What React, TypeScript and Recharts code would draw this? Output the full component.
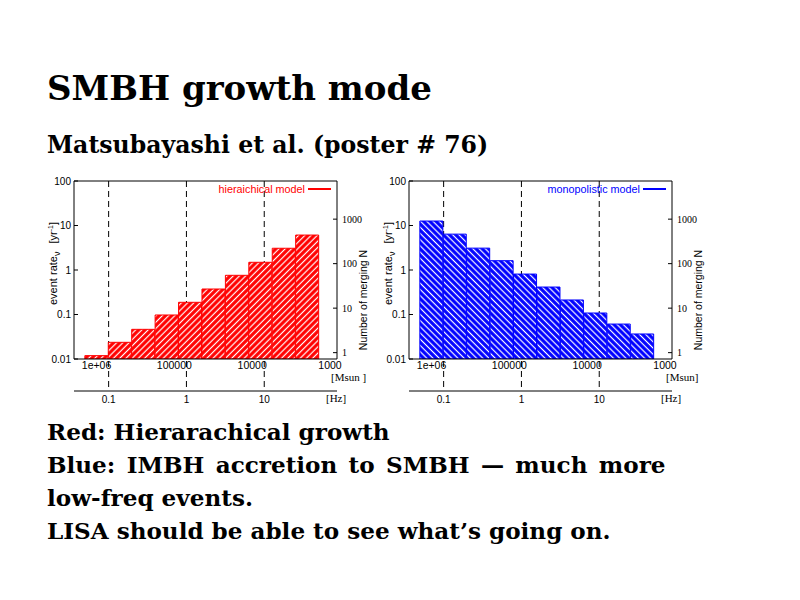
import React from "react";
import { BarChart, Bar, XAxis, YAxis, ReferenceLine } from "recharts";

// mass bins in Msun, one bar per factor of two, heaviest first
const massBins = [1000000, 500000, 250000, 125000, 62500, 31250, 15625, 7813, 3906, 1953];
const hierarchicalRate = [0.0119, 0.0237, 0.0464, 0.0975, 0.188, 0.374, 0.76, 1.49, 3.08, 6.1];
const monopolisticRate = [12.6, 6.4, 3.1, 1.62, 0.81, 0.414, 0.212, 0.108, 0.061, 0.0365];

const rateTicks = [0.01, 0.1, 1, 10, 100];
const mergerTicks = [1, 10, 100, 1000];
const massTicks = [6, 5, 4, 3]; // log10 Msun
const massTickLabels = ["1e+06", "100000", "10000", "1000"];
const freqTicks = [-1, 0, 1]; // log10 Hz
const freqTickLabels = ["0.1", "1", "10"];
const guideFreqs = [-1, 0, 1];

const bodyLines = [
  "Red: Hierarachical growth",
  "Blue: IMBH accretion to SMBH \u2014 much more",
  "low-freq events.",
  "LISA should be able to see what\u2019s going on.",
];
const bodyWordSpacing = [0, 3.3, 0, 0];

// layout (chart coordinates)
const W = 372;
const H = 240;
const MARGIN = { top: 10, right: 10, left: 34, bottom: 0 };
const LEFT_AXIS_W = 40;
const RIGHT_AXIS_W = 25;
const MASS_AXIS_H = 32;
const FREQ_AXIS_H = 19;
const PLOT_X0 = MARGIN.left + LEFT_AXIS_W;
const PLOT_X1 = W - MARGIN.right - RIGHT_AXIS_W;
const PLOT_Y0 = MARGIN.top + 1;
const PLOT_Y1 = H - MARGIN.bottom - MASS_AXIS_H - FREQ_AXIS_H;
const PLOT_W = PLOT_X1 - PLOT_X0;
const PLOT_MID = (PLOT_Y0 + PLOT_Y1) / 2;

const LOGM_LO = 2.91;
const LOGM_HI = 6.29;
const LOGF_AT_LOGM0 = 4.845; // log f = this - log M
const RATE_DOMAIN = [0.01, 100];
const COUNT_DOMAIN = [0.72, 7200];
const GUIDE_BOTTOM = 0.00223;

const HALF_BIN = Math.log10(2) / 2;
const firstEdge = Math.log10(massBins[0]) + HALF_BIN;
const lastEdge = Math.log10(massBins[massBins.length - 1]) - HALF_BIN;
const padLeft = ((LOGM_HI - firstEdge) / (LOGM_HI - LOGM_LO)) * PLOT_W;
const padRight = ((lastEdge - LOGM_LO) / (LOGM_HI - LOGM_LO)) * PLOT_W;

const SANS = "'Liberation Sans', Arial, sans-serif";
const SERIF = "'Liberation Serif', 'Times New Roman', serif";
const SLIDE = "'DejaVu Serif', serif";

function Panel({ rates, color, hatchAngle, id, name, massUnit }: any) {
  const data = massBins.map((mass, i) => {
    const logMass = Math.log10(mass);
    return { mass, logMass, logFreq: LOGF_AT_LOGM0 - logMass, rate: rates[i] };
  });
  const tickStyle = { fontSize: 10, fill: "#000", fontFamily: SANS };

  return (
    <BarChart width={W} height={H} data={data} margin={MARGIN} barCategoryGap={0} barGap={0}>
      <defs>
        <pattern id={id} width={4.4} height={4.4} patternUnits="userSpaceOnUse" patternTransform={`rotate(${hatchAngle})`}>
          <rect width={4.4} height={4.4} fill={color} />
          <line x1={2.2} y1={0} x2={2.2} y2={4.4} stroke="#fff" strokeWidth={1.2} />
        </pattern>
      </defs>

      {/* axes ids are ordered a..d so that the stacking below the plot is mass first, then frequency */}
      <XAxis xAxisId="a-bins" dataKey="mass" type="category" orientation="top" height={0} hide
        padding={{ left: padLeft, right: padRight }} />
      <XAxis xAxisId="b-mass" dataKey="logMass" type="number" domain={[LOGM_LO, LOGM_HI]} reversed allowDataOverflow
        ticks={massTicks} interval={0} tickFormatter={(v) => massTickLabels[massTicks.indexOf(v)]}
        height={MASS_AXIS_H} tickLine={false} tickSize={0} tickMargin={3}
        axisLine={{ stroke: "#000" }} tick={{ ...tickStyle, fontSize: 10.5 }}
        label={{
          content: () => (
            <text x={PLOT_X1 - 6} y={PLOT_Y1 + 22} fontSize={11} fontFamily={SERIF} fill="#000">{massUnit}</text>
          ),
        }} />
      <XAxis xAxisId="c-freq" dataKey="logFreq" type="number" domain={[LOGF_AT_LOGM0 - LOGM_HI, LOGF_AT_LOGM0 - LOGM_LO]}
        allowDataOverflow ticks={freqTicks} interval={0} tickFormatter={(v) => freqTickLabels[freqTicks.indexOf(v)]}
        height={FREQ_AXIS_H} tickLine={false} tickSize={0} tickMargin={5}
        axisLine={{ stroke: "#000" }} tick={tickStyle}
        label={{
          content: () => (
            <text x={PLOT_X1 - 11} y={PLOT_Y1 + MASS_AXIS_H + 11} fontSize={11} fontFamily={SERIF} fill="#000">[Hz]</text>
          ),
        }} />
      <XAxis xAxisId="d-frame" dataKey="logMass" orientation="top" type="number" domain={[LOGM_LO, LOGM_HI]}
        allowDataOverflow height={1} tick={false} tickLine={false} axisLine={{ stroke: "#000" }}
        label={{
          content: () => (
            <g>
              <text x={PLOT_X1 - 32} y={23} textAnchor="end" fontSize={10.8} fontFamily={SANS} fill={color}>{name}</text>
              <line x1={PLOT_X1 - 29} x2={PLOT_X1 - 6} y1={19} y2={19} stroke={color} strokeWidth={2} />
            </g>
          ),
        }} />

      <YAxis yAxisId="rate" type="number" scale="log" domain={RATE_DOMAIN} allowDataOverflow ticks={rateTicks}
        interval={0} width={LEFT_AXIS_W} tickSize={-4} tickMargin={7} axisLine={{ stroke: "#000" }}
        tickLine={{ stroke: "#000" }} tick={tickStyle} tickFormatter={(v) => String(v)}
        label={{
          content: () => (
            <text x={57} y={PLOT_MID + 35} transform={`rotate(-90 57 ${PLOT_MID + 35})`} fontSize={11}
              fontFamily={SANS} fill="#000">
              event rate<tspan dy={3} fontSize={9}>{"\u03bd"}</tspan>
              <tspan dx={8} dy={-3}>[yr</tspan>
              <tspan dy={-4} fontSize={7}>-1</tspan>
              <tspan dy={4}>]</tspan>
            </text>
          ),
        }} />
      <YAxis yAxisId="count" orientation="right" type="number" scale="log" domain={COUNT_DOMAIN} allowDataOverflow
        ticks={mergerTicks} interval={0} width={RIGHT_AXIS_W} tickSize={-4} tickMargin={9}
        axisLine={{ stroke: "#000" }} tickLine={{ stroke: "#000" }}
        tick={{ fontSize: 10, fill: "#000", fontFamily: SERIF }} tickFormatter={(v) => String(v)}
        label={{
          content: () => (
            <text x={367} y={PLOT_MID + 30} transform={`rotate(-90 367 ${PLOT_MID + 30})`} textAnchor="middle"
              fontSize={10.5} fontFamily={SANS} fill="#000">Number of merging N</text>
          ),
        }} />

      {guideFreqs.map((f) => (
        <ReferenceLine key={f} xAxisId="c-freq" yAxisId="rate" ifOverflow="visible" zIndex={0}
          segment={[{ x: f, y: RATE_DOMAIN[1] }, { x: f, y: GUIDE_BOTTOM }]}
          stroke="#000" strokeWidth={1} strokeDasharray="6 4" />
      ))}

      <Bar xAxisId="a-bins" yAxisId="rate" dataKey="rate" fill={`url(#${id})`} stroke={color} strokeWidth={1}
        isAnimationActive={false} />
    </BarChart>
  );
}

export default function App() {
  return (
    <div style={{ position: "fixed", left: 0, top: 0, width: 800, height: 600, background: "#fff", overflow: "hidden" }}>
      <div style={{ position: "absolute", left: 47, top: 70.5, fontFamily: SLIDE, fontWeight: "bold",
        fontSize: 34, lineHeight: "34px", whiteSpace: "nowrap", color: "#000" }}>
        SMBH growth mode
      </div>
      <div style={{ position: "absolute", left: 47, top: 134, fontFamily: SLIDE, fontWeight: "bold",
        fontSize: 23.6, lineHeight: "23.6px", whiteSpace: "nowrap", color: "#000" }}>
        Matsubayashi et al. (poster # 76)
      </div>

      <div style={{ position: "absolute", left: 0, top: 170 }}>
        <Panel rates={hierarchicalRate} color="#ff0000" hatchAngle={45} id="hatchRed" name="hieraichical model" massUnit="[Msun ]" />
      </div>
      <div style={{ position: "absolute", left: 335.3, top: 170 }}>
        <Panel rates={monopolisticRate} color="#0000ff" hatchAngle={-45} id="hatchBlue" name="monopolistic model" massUnit="[Msun]" />
      </div>

      <div style={{ position: "absolute", left: 47, top: 414.5, fontFamily: SLIDE, fontWeight: "bold", fontSize: 23.1,
        lineHeight: "33px", whiteSpace: "nowrap", color: "#000" }}>
        {bodyLines.map((line, i) => (
          <div key={line} style={{ wordSpacing: bodyWordSpacing[i] }}>{line}</div>
        ))}
      </div>
    </div>
  );
}
